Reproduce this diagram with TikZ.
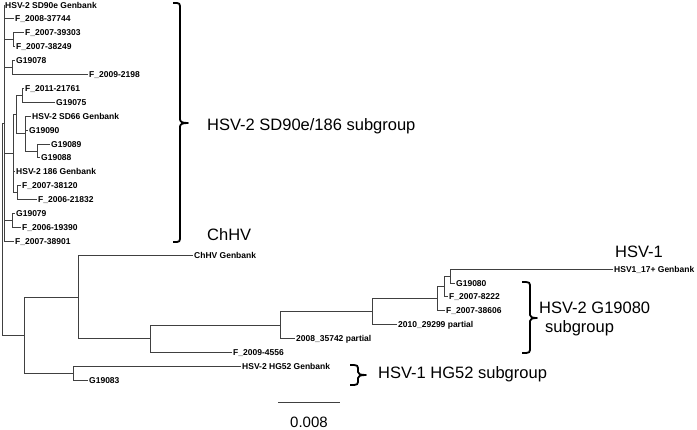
\documentclass[tikz,border=0pt]{standalone}
\usepackage{fontspec}
\setmainfont{Liberation Sans}
\begin{document}
\begin{tikzpicture}[x=1pt,y=-1pt,
  br/.style={draw=black!75, line width=0.9pt},
  leaf/.style={anchor=west, inner sep=1pt, font=\bfseries\fontsize{8.5}{9}\selectfont, text height=6pt, text depth=0pt},
  big/.style={anchor=base west, inner sep=0pt, font=\fontsize{16.5}{19}\selectfont},
  bracestyle/.style={draw=black, line width=1.8pt, line join=round},
  scalebar/.style={draw=black!75, line width=1pt}
]
\useasboundingbox (0,0) rectangle (697,429);

% ---------- leaves ----------
\node[leaf] (l0)  at (4,5)     {HSV-2 SD90e Genbank};
\node[leaf] (l1)  at (14,18.9) {F\_2008-37744};
\node[leaf] (l2)  at (24,32.8) {F\_2007-39303};
\node[leaf] (l3)  at (15,46.7) {F\_2007-38249};
\node[leaf] (l4)  at (15,60.6) {G19078};
\node[leaf] (l5)  at (88,74.5) {F\_2009-2198};
\node[leaf] (l6)  at (24,88.4) {F\_2011-21761};
\node[leaf] (l7)  at (55,102.3) {G19075};
\node[leaf] (l8)  at (31,116.2) {HSV-2 SD66 Genbank};
\node[leaf] (l9)  at (28,130.1) {G19090};
\node[leaf] (l10) at (50,144.0) {G19089};
\node[leaf] (l11) at (40,157.9) {G19088};
\node[leaf] (l12) at (15,171.8) {HSV-2 186 Genbank};
\node[leaf] (l13) at (21,185.7) {F\_2007-38120};
\node[leaf] (l14) at (37,199.6) {F\_2006-21832};
\node[leaf] (l15) at (15,213.5) {G19079};
\node[leaf] (l16) at (21,227.4) {F\_2006-19390};
\node[leaf] (l17) at (14,241.3) {F\_2007-38901};
\node[leaf] (l18) at (193,255.2) {ChHV Genbank};
\node[leaf] (l19) at (613,269.1) {HSV1\_17+ Genbank};
\node[leaf] (l20) at (455,283.0) {G19080};
\node[leaf] (l21) at (448,296.9) {F\_2007-8222};
\node[leaf] (l22) at (445,310.8) {F\_2007-38606};
\node[leaf] (l23) at (397,324.7) {2010\_29299 partial};
\node[leaf] (l24) at (295,338.6) {2008\_35742 partial};
\node[leaf] (l25) at (232,352.5) {F\_2009-4556};
\node[leaf] (l26) at (241,366.4) {HSV-2 HG52 Genbank};
\node[leaf] (l27) at (88,380.3) {G19083};

% ---------- internal nodes ----------
\coordinate (R)  at (2.5,229.17);
\coordinate (A)  at (4,123.15);
\coordinate (N1) at (13,39.75);
\coordinate (N2) at (12,67.55);
\coordinate (C)  at (13,153.6);
\coordinate (Cx) at (16,114.5);
\coordinate (C1) at (22,95.35);
\coordinate (C2) at (25,133.6);
\coordinate (C3) at (37,150.95);
\coordinate (C4) at (17,192.65);
\coordinate (N3) at (12,220.45);
\coordinate (B)  at (24,335.18);
\coordinate (D)  at (78,297.01);
\coordinate (E)  at (73,373.35);
\coordinate (F)  at (150,338.82);
\coordinate (G)  at (280,325.13);
\coordinate (H)  at (372,311.67);
\coordinate (I)  at (437,298.64);
\coordinate (J)  at (444,286.48);
\coordinate (K)  at (450,276.05);

% ---------- branches ----------
\draw[br] (R) |- (A);  \draw[br] (R) |- (B);
\draw[br] (A) |- (l0.west);  \draw[br] (A) |- (l1.west);
\draw[br] (A) |- (N1);  \draw[br] (A) |- (N2);
\draw[br] (A) |- (C);   \draw[br] (A) |- (N3);
\draw[br] (A) |- (l17.west);
\draw[br] (N1) |- (l2.west);  \draw[br] (N1) |- (l3.west);
\draw[br] (N2) |- (l4.west);  \draw[br] (N2) |- (l5.west);
\draw[br] (C) |- (Cx);  \draw[br] (C) |- (l12.west);  \draw[br] (C) |- (C4);
\draw[br] (Cx) |- (C1); \draw[br] (Cx) |- (C2);
\draw[br] (C1) |- (l6.west);  \draw[br] (C1) |- (l7.west);
\draw[br] (C2) |- (l8.west);  \draw[br] (C2) |- (l9.west);  \draw[br] (C2) |- (C3);
\draw[br] (C3) |- (l10.west); \draw[br] (C3) |- (l11.west);
\draw[br] (C4) |- (l13.west); \draw[br] (C4) |- (l14.west);
\draw[br] (N3) |- (l15.west); \draw[br] (N3) |- (l16.west);
\draw[br] (B) |- (D);  \draw[br] (B) |- (E);
\draw[br] (D) |- (l18.west);  \draw[br] (D) |- (F);
\draw[br] (F) |- (G);  \draw[br] (F) |- (l25.west);
\draw[br] (G) |- (H);  \draw[br] (G) |- (l24.west);
\draw[br] (H) |- (I);  \draw[br] (H) |- (l23.west);
\draw[br] (I) |- (J);  \draw[br] (I) |- (l22.west);
\draw[br] (J) |- (K);  \draw[br] (J) |- (l21.west);
\draw[br] (K) |- (l19.west);  \draw[br] (K) |- (l20.west);
\draw[br] (E) |- (l26.west);  \draw[br] (E) |- (l27.west);

% ---------- braces ----------
\draw[bracestyle] (173,3) -- (177,3) .. controls (179,3) and (180,4) .. (180,6) -- (180,119)
  .. controls (180,122) and (182,123) .. (188,123)
  .. controls (182,123) and (180,124) .. (180,127) -- (180,239)
  .. controls (180,241) and (179,242) .. (177,242) -- (173,242);
\draw[bracestyle] (522,282) -- (526,282) .. controls (529,282) and (530,283) .. (530,285) -- (530,315)
  .. controls (530,317) and (532,318) .. (537,318)
  .. controls (532,318) and (530,319) .. (530,321) -- (530,350)
  .. controls (530,352) and (529,353) .. (526,353) -- (522,353);
\draw[bracestyle] (350,365) -- (354,365) .. controls (357,365) and (358,366) .. (358,368) -- (358,372)
  .. controls (358,374) and (360,375) .. (366,375)
  .. controls (360,375) and (358,376) .. (358,378) -- (358,382)
  .. controls (358,384) and (357,385) .. (354,385) -- (350,385);

% ---------- group labels ----------
\node[big] (t1) at (207,130) {HSV-2 SD90e/186 subgroup};
\node[big] (t2) at (207,240) {ChHV};
\node[big] (t3) at (615,257) {HSV-1};
\node[big] (t4) at (539,313) {HSV-2 G19080};
\node[big] (t5) at (545,332) {subgroup};
\node[big] (t6) at (378,378) {HSV-1 HG52 subgroup};

% ---------- scale bar ----------
\coordinate (sb1) at (278,402);
\coordinate (sb2) at (340,402);
\draw[scalebar] (sb1) -- (sb2);
\node[anchor=base, inner sep=0pt, font=\fontsize{15}{18}\selectfont] (sbl) at (309,427) {0.008};
\end{tikzpicture}
\end{document}
